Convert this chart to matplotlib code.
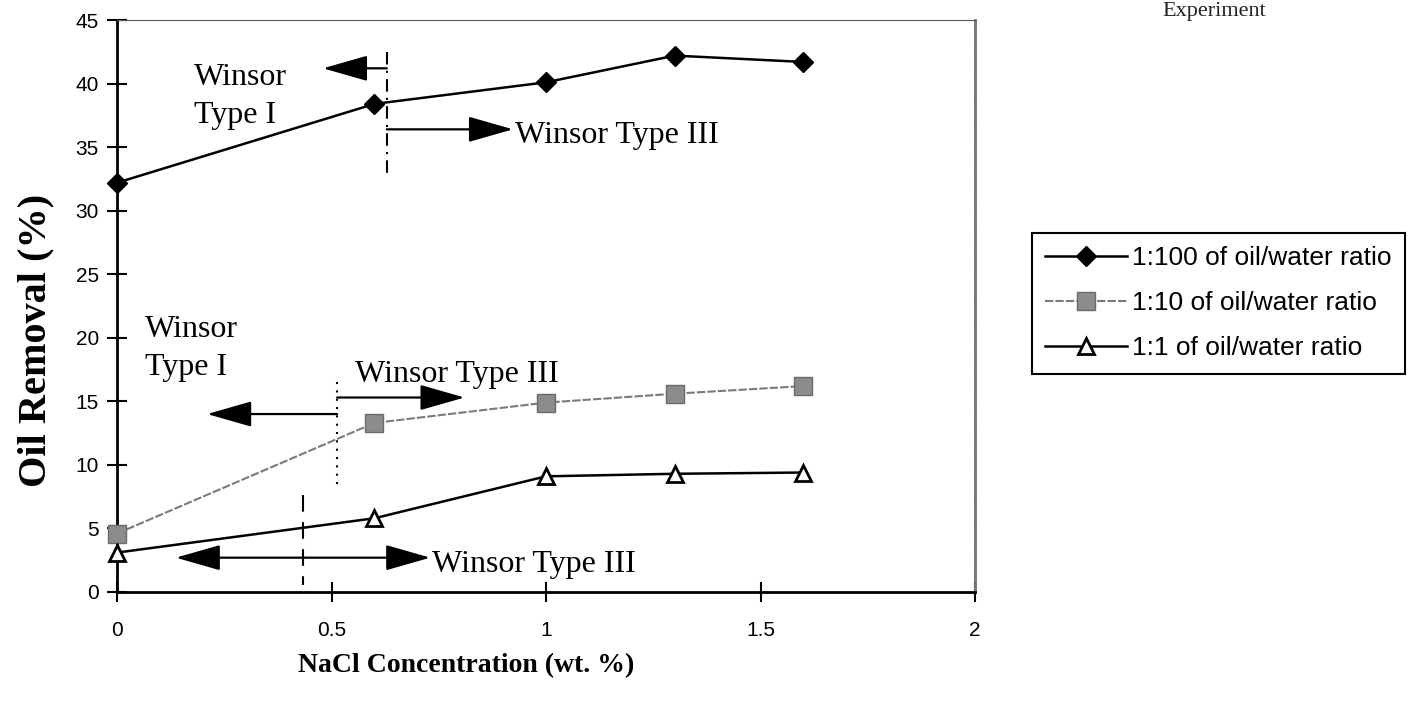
import matplotlib.pyplot as plt

# NaCl concentration (wt. %)
nacl = [0, 0.6, 1.0, 1.3, 1.6]

# Oil removal (%) for each oil/water ratio
removal_1_100 = [32.2, 38.4, 40.1, 42.2, 41.7]
removal_1_10 = [4.6, 13.3, 14.9, 15.6, 16.2]
removal_1_1 = [3.1, 5.8, 9.1, 9.3, 9.4]

series_labels = ["1:100 of oil/water ratio", "1:10 of oil/water ratio", "1:1 of oil/water ratio"]

x_ticks = [0, 0.5, 1, 1.5, 2]
x_tick_labels = ["0", "0.5", "1", "1.5", "2"]
y_ticks = list(range(0, 50, 5))

serif = "Liberation Serif"
sans = "Liberation Sans"

fig = plt.figure(figsize=(14.24, 7.05), dpi=100)
ax = fig.add_axes([0.0822, 0.1603, 0.6025, 0.8113])

ax.plot(nacl, removal_1_100, color="black", lw=1.8, marker="D", ms=10,
        mfc="black", mec="black", label=series_labels[0], zorder=3, clip_on=False)
ax.plot(nacl, removal_1_10, color="#7a7a7a", lw=1.5, ls=(0, (4, 1)), marker="s", ms=13,
        mfc="#8c8c8c", mec="#6a6a6a", label=series_labels[1], zorder=3, clip_on=False)
ax.plot(nacl, removal_1_1, color="black", lw=1.8, marker="^", ms=12,
        mfc="white", mec="black", mew=2, label=series_labels[2], zorder=3, clip_on=False)

ax.set_xlim(0, 2)
ax.set_ylim(0, 45)
ax.set_xticks(x_ticks)
ax.set_xticklabels(x_tick_labels, fontfamily=sans, fontsize=15)
ax.set_yticks(y_ticks)
ax.set_yticklabels([str(v) for v in y_ticks], fontfamily=sans, fontsize=15)
ax.tick_params(direction="inout", length=14, width=1.5, pad=14)
ax.tick_params(axis="y", pad=6)

for side in ["left", "bottom"]:
    ax.spines[side].set_linewidth(2)
ax.spines["top"].set_linestyle((0, (1, 1)))
ax.spines["top"].set_color("#555555")
ax.spines["right"].set_linestyle((0, (1, 0.5)))
ax.spines["right"].set_color("#777777")
ax.spines["right"].set_linewidth(2)

ax.set_xlabel("NaCl Concentration (wt. %)", fontfamily=serif, fontweight="bold",
              fontsize=20, va="center")
ax.xaxis.set_label_coords(0.407, -0.128)
ax.set_ylabel("Oil Removal (%)", fontfamily=serif, fontweight="bold",
              fontsize=29, va="center")
ax.yaxis.set_label_coords(-0.095, 0.44)

# Phase boundary annotations
arrow = dict(arrowstyle="-|>,head_length=1.4,head_width=0.4", color="black",
             lw=1.6, shrinkA=0, shrinkB=0, mutation_scale=20)
darrow = dict(arrowstyle="<|-|>,head_length=1.4,head_width=0.4", color="black",
              lw=1.6, shrinkA=0, shrinkB=0, mutation_scale=20)
txt = dict(fontfamily=serif, fontsize=23, va="baseline", linespacing=1.4)

# 1:100 series
ax.plot([0.629, 0.629], [42.5, 33.0], color="black", lw=1.5, ls=(0, (6, 3, 1, 3)))
ax.annotate("", xy=(0.48, 41.2), xytext=(0.629, 41.2), arrowprops=arrow)
ax.annotate("", xy=(0.923, 36.4), xytext=(0.629, 36.4), arrowprops=arrow)
ax.text(0.18, 36.9, "Winsor\nType I", **txt)
ax.text(0.927, 35.3, "Winsor Type III", **txt)

# 1:10 series
ax.plot([0.513, 0.513], [16.5, 8.3], color="black", lw=1.5, ls=(0, (1, 3)))
ax.annotate("", xy=(0.21, 14.0), xytext=(0.513, 14.0), arrowprops=arrow)
ax.annotate("", xy=(0.81, 15.3), xytext=(0.513, 15.3), arrowprops=arrow)
ax.text(0.065, 17.1, "Winsor\nType I", **txt)
ax.text(0.555, 16.5, "Winsor Type III", **txt)

# 1:1 series
ax.plot([0.434, 0.434], [7.6, 0.55], color="black", lw=1.5, ls=(0, (8, 5)))
ax.annotate("", xy=(0.137, 2.7), xytext=(0.73, 2.7), arrowprops=darrow)
ax.text(0.735, 1.55, "Winsor Type III", **txt)

leg = fig.legend(loc="upper left", bbox_to_anchor=(1032 / 1424, 1 - 233 / 705),
                 borderaxespad=0, prop={"family": sans, "size": 19}, handlelength=3.1,
                 labelspacing=0.8, borderpad=0.5, handletextpad=0.2, fancybox=False,
                 framealpha=1)
leg.get_frame().set_edgecolor("black")
leg.get_frame().set_linewidth(1.5)

fig.text(1162 / 1424, 1 - 16 / 705, "Experiment", fontfamily=serif, fontsize=16,
         va="baseline", color="#222222")

fig.savefig("out.png", dpi=100)
